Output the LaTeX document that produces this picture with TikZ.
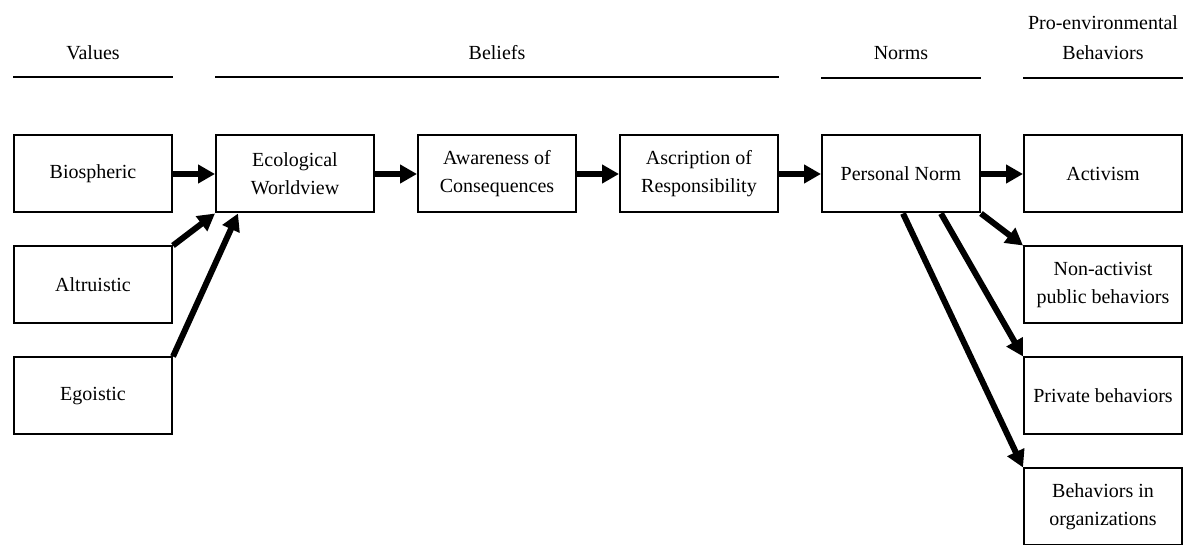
\documentclass[tikz,border=0pt]{standalone}
\usepackage{fontspec}
\setmainfont{Liberation Serif}
\usetikzlibrary{positioning, arrows.meta}
\tikzset{
    box/.style={draw, line width=1pt, minimum width=79pt, minimum height=38.5pt,
        align=center, inner sep=2pt, font=\fontsize{10}{14}\selectfont}, % the model boxes
    flow/.style={-{Triangle[length=8.5pt,width=9pt]}, line width=3pt}, % thick arrows
    rule/.style={line width=1pt}, % lines under the headings
    head/.style={align=center, font=\fontsize{10}{15}\selectfont},
    node distance=16pt and 21pt,
}
\begin{document}
\begin{tikzpicture}[x=0.5pt, y=-0.5pt]
    \useasboundingbox (0,0) rectangle (1185,545);
    % first column and the chain
    \node[box] (bio) at (93,174) {Biospheric};
    \node[box, below=of bio] (alt) {Altruistic};
    \node[box, below=of alt] (ego) {Egoistic};
    \node[box, right=of bio] (eco) {Ecological\\Worldview};
    \node[box, right=of eco] (aware) {Awareness of\\Consequences};
    \node[box, right=of aware] (ascr) {Ascription of\\Responsibility};
    \node[box, right=of ascr] (pn) {Personal Norm};
    % behaviors
    \node[box, right=of pn] (act) {Activism};
    \node[box, below=of act] (pub) {Non-activist\\public behaviors};
    \node[box, below=of pub] (priv) {Private behaviors};
    \node[box, below=of priv] (org) {Behaviors in\\organizations};
    % headings
    \node[head] (values) at (bio |- 0,53) {Values};
    \node[head] (beliefs) at (aware |- 0,53) {Beliefs};
    \node[head] (norms) at (pn |- 0,53) {Norms};
    \node[head] (behav) at (act |- 0,38) {Pro-environmental\\Behaviors};
    \draw[rule] (bio.west |- 0,77) -- (bio.east |- 0,77);
    \draw[rule] (eco.west |- 0,77) -- (ascr.east |- 0,77);
    \draw[rule] (pn.west |- 0,78) -- (pn.east |- 0,78);
    \draw[rule] (act.west |- 0,78) -- (act.east |- 0,78);
    % arrows
    \draw[flow] (bio) -- (eco);
    \draw[flow] (alt.north east) -- (eco.south west);
    \draw[flow] (ego.north east) -- ([xshift=11.5pt]eco.south west);
    \draw[flow] (eco) -- (aware);
    \draw[flow] (aware) -- (ascr);
    \draw[flow] (ascr) -- (pn);
    \draw[flow] (pn) -- (act);
    \draw[flow] (pn.south east) -- (pub.north west);
    \draw[flow] ([xshift=-20pt]pn.south east) -- (priv.north west);
    \draw[flow] ([xshift=1pt]pn.south) -- (org.north west);
\end{tikzpicture}
\end{document}
